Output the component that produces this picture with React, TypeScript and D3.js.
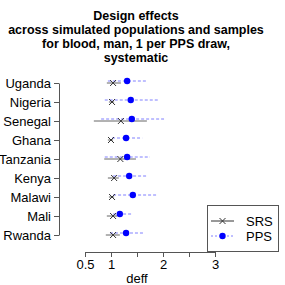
import React, { useEffect, useRef } from 'react'
import * as d3 from 'd3'

// countries top to bottom
const countries = ['Uganda', 'Nigeria', 'Senegal', 'Ghana', 'Tanzania', 'Kenya', 'Malawi', 'Mali', 'Rwanda']

// SRS design effect: estimate and range
const srsEst = [1.04, 1.02, 1.19, 1.0, 1.18, 1.06, 1.02, 1.04, 1.04]
const srsLo = [0.92, 0.96, 0.67, 0.94, 0.87, 0.94, 0.96, 0.92, 0.9]
const srsHi = [1.19, 1.06, 1.69, 1.04, 1.48, 1.15, 1.06, 1.12, 1.17]

// PPS design effect: estimate and range
const ppsEst = [1.31, 1.38, 1.4, 1.29, 1.31, 1.35, 1.42, 1.17, 1.29]
const ppsLo = [0.94, 0.88, 0.81, 1.02, 0.88, 1.04, 1.04, 1.04, 0.98]
const ppsHi = [1.69, 1.9, 2.02, 1.6, 1.75, 1.71, 1.87, 1.42, 1.65]

const xTicks = [0.5, 1, 1.5, 2, 2.5, 3]
const xTickLabels = ['0.5', '1', '', '2', '', '3']

const titleLines = [
  'Design effects',
  'across simulated populations and samples',
  'for blood, man, 1 per PPS draw,',
  'systematic',
]

const font = '"Liberation Sans", Arial, Helvetica, sans-serif'

function App() {
  const xAxisRef = useRef(null)
  const yAxisRef = useRef(null)

  const x = d3.scaleLinear().domain([0.5, 3]).range([85, 215])
  const y = d3.scalePoint().domain(countries).range([83, 235])
  const ppsShift = -2

  useEffect(() => {
    const xAxis = d3.axisBottom(x)
      .tickValues(xTicks)
      .tickFormat((d, i) => xTickLabels[i])
      .tickSize(5)
      .tickSizeOuter(0)
      .tickPadding(3)
    const gx = d3.select(xAxisRef.current).call(xAxis)
    gx.selectAll('text').attr('font-size', 13).attr('font-family', font).attr('fill', '#000')
    gx.selectAll('line, path').attr('stroke', '#555')

    const yAxis = d3.axisLeft(y).tickSize(5).tickSizeOuter(0).tickPadding(3)
    const gy = d3.select(yAxisRef.current).call(yAxis)
    gy.selectAll('text').attr('font-size', 13).attr('font-family', font).attr('fill', '#000')
    gy.selectAll('line, path').attr('stroke', '#555')
  }, [])

  const cross = 3

  return (
    <svg width={285} height={285} style={{ position: 'absolute', left: 0, top: 0, background: '#fff' }}>
      <g fontFamily={font} fontWeight="bold" fontSize={12.5} textAnchor="middle">
        {titleLines.map((t, i) => (
          <text key={i} x={136} y={20 + i * 14}>{t}</text>
        ))}
      </g>

      <g ref={xAxisRef} transform="translate(0,252)" />
      <g ref={yAxisRef} transform="translate(59,0)" />

      {countries.map((c, i) => (
        <g key={c}>
          <line x1={x(ppsLo[i])} x2={x(ppsHi[i])} y1={y(c) + ppsShift} y2={y(c) + ppsShift}
            stroke="#8080ff" strokeWidth={1} strokeDasharray="3,2" />
          <line x1={x(srsLo[i])} x2={x(srsHi[i])} y1={y(c)} y2={y(c)} stroke="#666" strokeWidth={1} />
          <path d={`M${x(srsEst[i]) - cross},${y(c) - cross}L${x(srsEst[i]) + cross},${y(c) + cross}M${x(srsEst[i]) - cross},${y(c) + cross}L${x(srsEst[i]) + cross},${y(c) - cross}`}
            stroke="#333" strokeWidth={1} fill="none" />
          <circle cx={x(ppsEst[i])} cy={y(c) + ppsShift} r={3.2} fill="#0000ff" />
        </g>
      ))}

      <text x={137} y={283} textAnchor="middle" fontFamily={font} fontSize={13}>deff</text>

      <g>
        <rect x={207.5} y={205.5} width={71} height={46} fill="#fff" stroke="#555" />
        <line x1={211} x2={234} y1={221} y2={221} stroke="#333" />
        <path d={`M${222.5 - cross},${221 - cross}L${222.5 + cross},${221 + cross}M${222.5 - cross},${221 + cross}L${222.5 + cross},${221 - cross}`}
          stroke="#333" fill="none" />
        <line x1={211} x2={234} y1={236} y2={236} stroke="#8080ff" strokeDasharray="2,2" />
        <circle cx={222.5} cy={236} r={3.2} fill="#0000ff" />
        <text x={246} y={225.5} fontFamily={font} fontSize={13}>SRS</text>
        <text x={246} y={240.5} fontFamily={font} fontSize={13}>PPS</text>
      </g>
    </svg>
  )
}

export default App
